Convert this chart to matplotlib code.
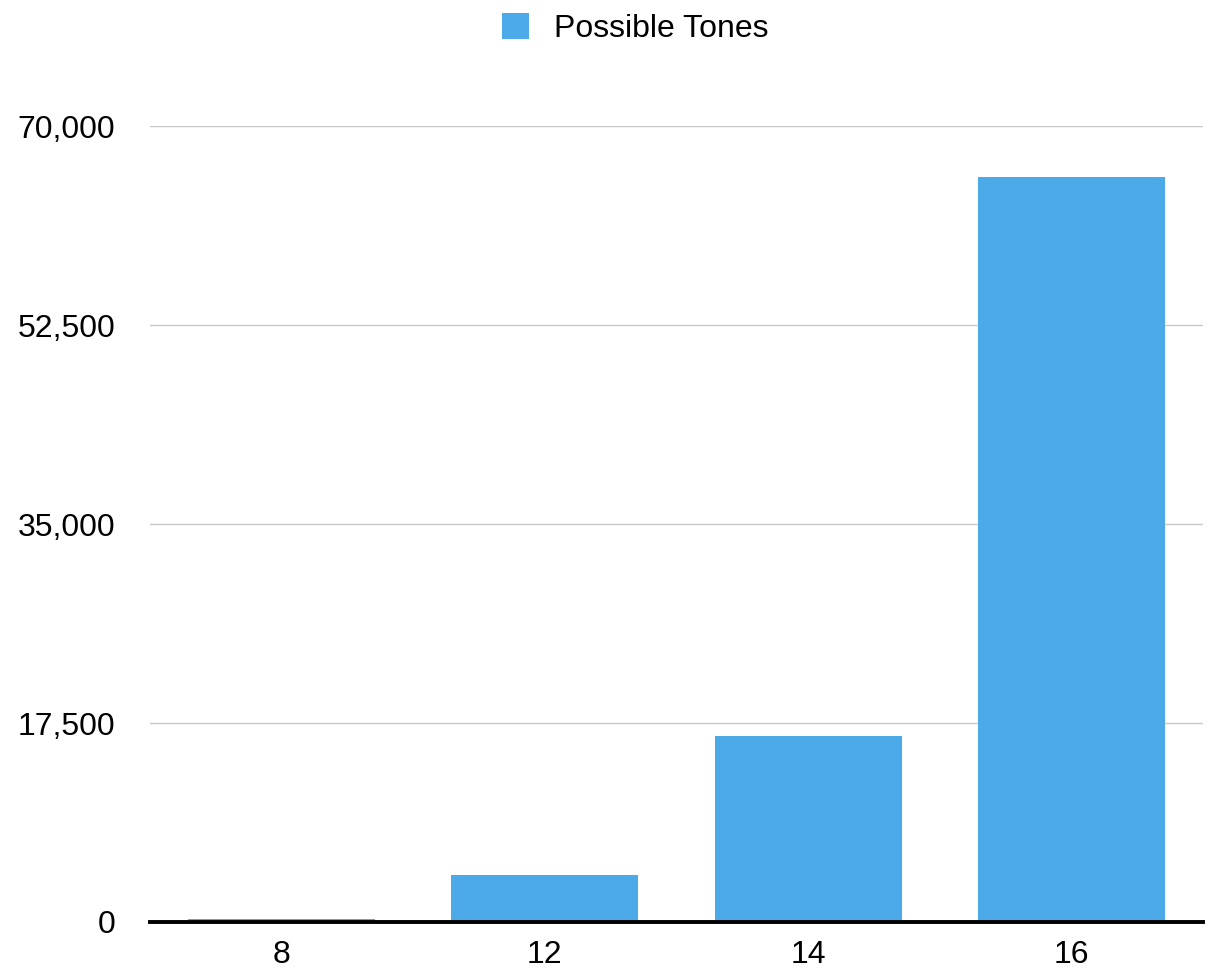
import matplotlib.pyplot as plt
from matplotlib.ticker import FuncFormatter

# bit depth vs number of possible tones
bit_depths = ['8', '12', '14', '16']
possible_tones = [256, 4096, 16384, 65536]
y_ticks = [0, 17500, 35000, 52500, 70000]

bar_color = '#4DAAE8'

plt.rcParams['font.family'] = ['Liberation Sans', 'DejaVu Sans']

fig = plt.figure(figsize=(12.17, 9.74), dpi=100)
ax = fig.add_axes([0.1233, 0.0534, 0.8652, 0.8172])

x = range(len(bit_depths))
ax.bar(x, possible_tones, width=0.71, color=bar_color,
       label='Possible Tones', zorder=2)

ax.set_xlim(-0.5, len(bit_depths) - 0.5)
ax.set_ylim(0, 70000)
ax.set_xticks(list(x))
ax.set_xticklabels(bit_depths)
ax.set_yticks(y_ticks)
ax.yaxis.set_major_formatter(FuncFormatter(lambda v, p: f'{int(v):,}'))

ax.grid(axis='y', color='#c8c8c8', linewidth=1.0, zorder=0)
for s in ['top', 'right', 'left']:
    ax.spines[s].set_visible(False)
ax.spines['bottom'].set_linewidth(2.8)
ax.spines['bottom'].set_color('black')
ax.spines['bottom'].set_zorder(3)

ax.tick_params(axis='both', length=0, labelsize=23)
ax.tick_params(axis='y', pad=25)
ax.tick_params(axis='x', pad=13)

fig.legend(loc='upper center', bbox_to_anchor=(0.522, 1.016), frameon=False,
           fontsize=23, handlelength=0.85, handleheight=0.85,
           handletextpad=0.8)

fig.savefig('out.png', dpi=100)
